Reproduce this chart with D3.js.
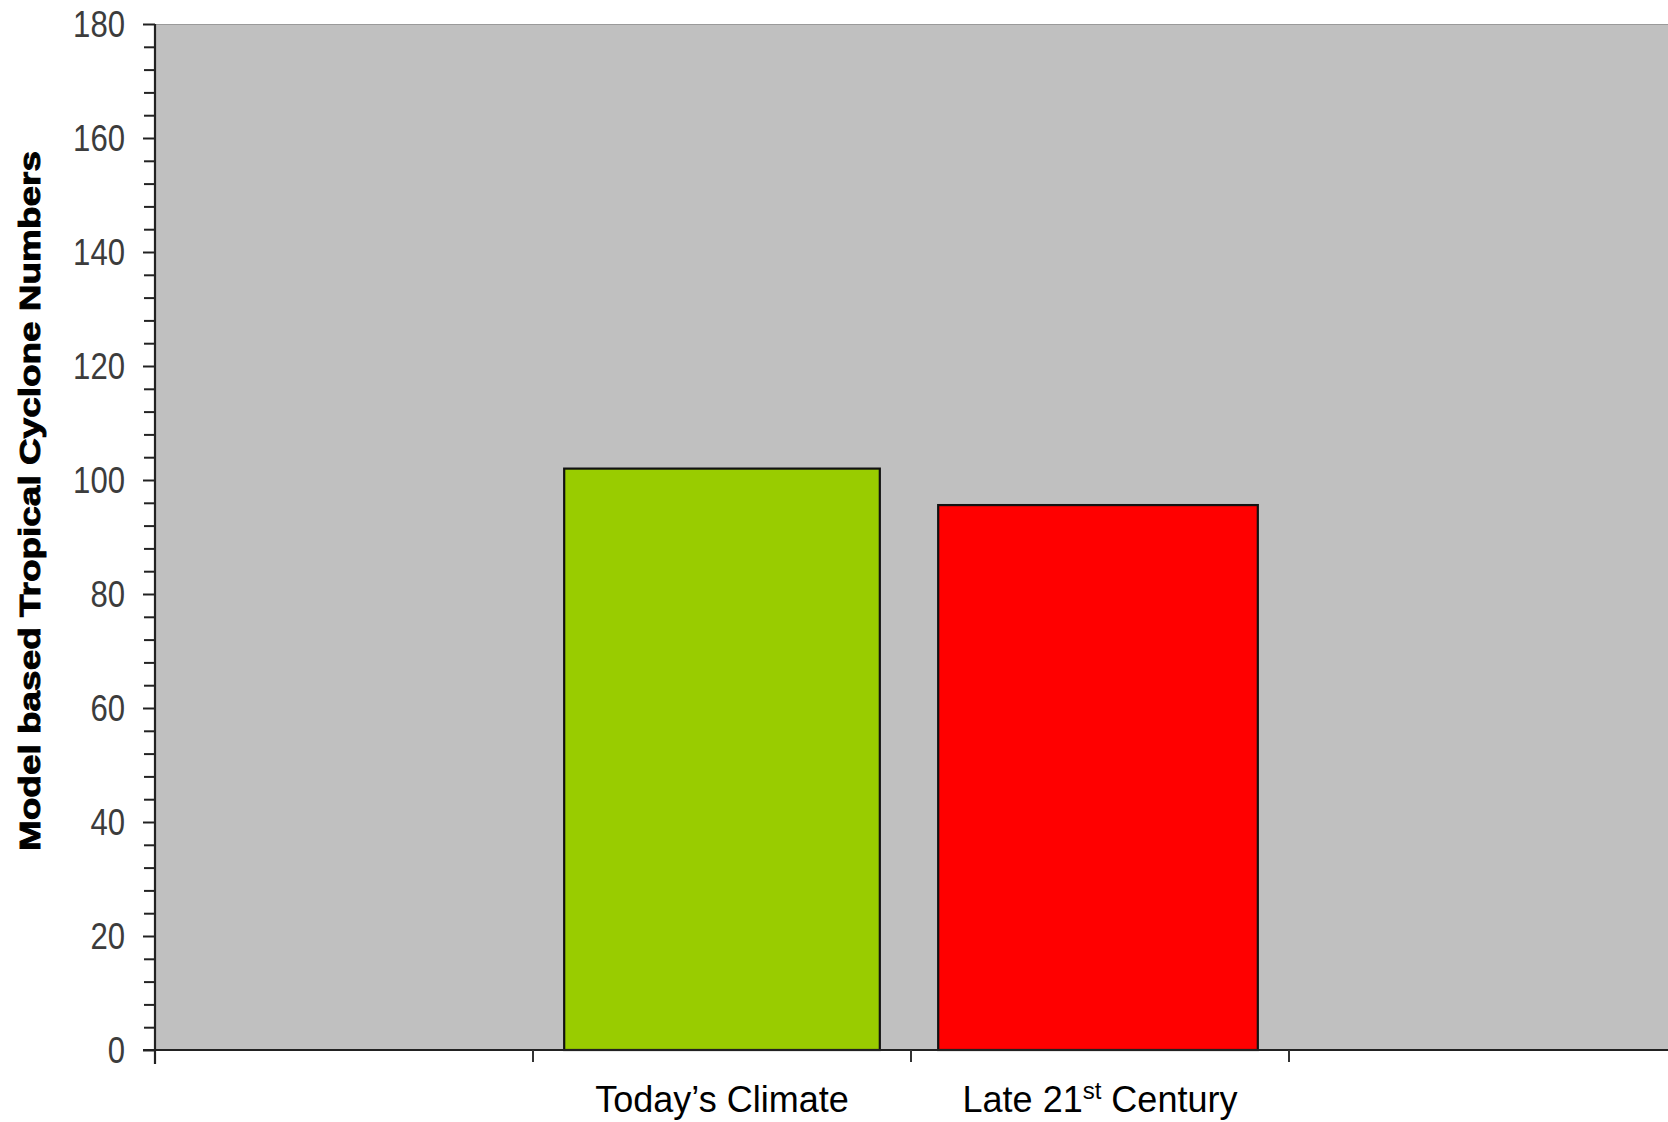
<!DOCTYPE html>
<html>
<head>
<meta charset="utf-8">
<script src="https://cdn.jsdelivr.net/npm/d3@7"></script>
<style>
  body { margin: 0; background: #fff; }
  svg { display: block; }
</style>
</head>
<body>
<div id="chart"></div>
<script>
// categories (first and last slots are empty on the original chart)
const categories = ["c0", "Today\u2019s Climate", "Late 21st Century", "c3"];
const values = [0, 102, 95.6, 0];
const barColors = ["#99CC00", "#99CC00", "#FF0000", "#99CC00"];
const yTicks = [0, 20, 40, 60, 80, 100, 120, 140, 160, 180];

const width = 1668, height = 1122;
const margin = {top: 24, right: 1, bottom: 72, left: 155};
const innerW = width - margin.left - margin.right;
const innerH = height - margin.top - margin.bottom;

const svg = d3.select("#chart").append("svg")
    .attr("width", width)
    .attr("height", height);

const g = svg.append("g")
    .attr("transform", "translate(" + margin.left + "," + margin.top + ")");

let x = d3.scaleBand()
    .domain(categories)
    .range([0, innerW])
    .paddingInner(0.165)
    .paddingOuter(0.0825);

let y = d3.scaleLinear()
    .domain([0, 180])
    .range([innerH, 0]);

// plot background
g.append("rect")
    .attr("width", innerW + margin.right)
    .attr("height", innerH)
    .attr("fill", "#C0C0C0");

g.append("line")
    .attr("x1", 0).attr("x2", innerW + margin.right)
    .attr("y1", 0.5).attr("y2", 0.5)
    .attr("stroke", "#9a9a9a")
    .attr("stroke-width", 1);

// bars (red one sits slightly wider to the left in the original)
g.selectAll(".bar")
    .data(values)
    .enter().append("rect")
    .attr("class", "bar")
    .attr("x", (d, i) => x(categories[i]) - (i === 2 ? 4 : 0))
    .attr("y", d => y(d))
    .attr("width", (d, i) => x.bandwidth() + (i === 2 ? 4 : 0))
    .attr("height", d => innerH - y(d))
    .attr("fill", (d, i) => barColors[i])
    .attr("stroke", d => d === 0 ? "#4a5a10" : "#111")
    .attr("stroke-width", d => d === 0 ? 1.5 : 2.2);

// y axis
let yAxis = d3.axisLeft(y)
    .tickValues(yTicks)
    .tickSize(12)
    .tickPadding(18);

let yMinor = d3.axisLeft(y)
    .tickValues(d3.range(0, 181, 4).filter(v => v % 20 !== 0))
    .tickSize(11)
    .tickFormat("");

g.append("g").call(yMinor)
    .call(a => a.select(".domain").remove())
    .selectAll("line").attr("stroke", "#222").attr("stroke-width", 2);

let ya = g.append("g").call(yAxis);
ya.select(".domain").attr("stroke", "#222").attr("stroke-width", 2.2)
    .attr("d", "M0," + (innerH + 14) + "V0");
ya.selectAll(".tick line").attr("stroke", "#222").attr("stroke-width", 2);
ya.selectAll("text")
    .attr("fill", "#3c3c3c")
    .style("font-family", "'Liberation Sans', Arial, sans-serif")
    .style("font-size", "36px")
    .attr("textLength", d => String(d).length * 17.3)
    .attr("lengthAdjust", "spacingAndGlyphs")
    .attr("dy", "0.36em");

// x axis line and band boundary ticks
g.append("line")
    .attr("x1", -12).attr("x2", innerW + margin.right)
    .attr("y1", innerH).attr("y2", innerH)
    .attr("stroke", "#222").attr("stroke-width", 2.2);

let step = x.step();
g.selectAll(".xtick")
    .data(categories.slice(1))
    .enter().append("line")
    .attr("class", "xtick")
    .attr("x1", d => x(d) - x.paddingInner() * step / 2)
    .attr("x2", d => x(d) - x.paddingInner() * step / 2)
    .attr("y1", innerH)
    .attr("y2", innerH + 12)
    .attr("stroke", "#333").attr("stroke-width", 2);

// x labels (only the two real categories)
let labels = g.selectAll(".xlab")
    .data(categories.slice(1, 3))
    .enter().append("text")
    .attr("class", "xlab")
    .attr("x", d => x(d) + x.bandwidth() / 2)
    .attr("y", innerH + 62)
    .attr("text-anchor", "middle")
    .style("font-family", "'Liberation Sans', Arial, sans-serif")
    .style("font-size", "36px")
    .attr("fill", "#000");

labels.each(function(d) {
    let t = d3.select(this);
    let m = d.match(/^(.*\d)(st)( .*)$/);
    if (m) {
        t.append("tspan").text(m[1]);
        t.append("tspan").text(m[2])
            .style("font-size", "24px")
            .attr("dy", "-13");
        t.append("tspan").text(m[3]).attr("dy", "13");
    } else {
        t.text(d);
    }
});

// y axis title
svg.append("text")
    .attr("transform", "translate(40," + 501 + ") rotate(-90)")
    .attr("text-anchor", "middle")
    .style("font-family", "'Liberation Sans', Arial, sans-serif")
    .style("font-weight", "bold")
    .style("font-size", "30px")
    .attr("stroke", "#000")
    .attr("stroke-width", 0.9)
    .attr("textLength", 700)
    .attr("lengthAdjust", "spacingAndGlyphs")
    .text("Model based Tropical Cyclone Numbers");
</script>
</body>
</html>
